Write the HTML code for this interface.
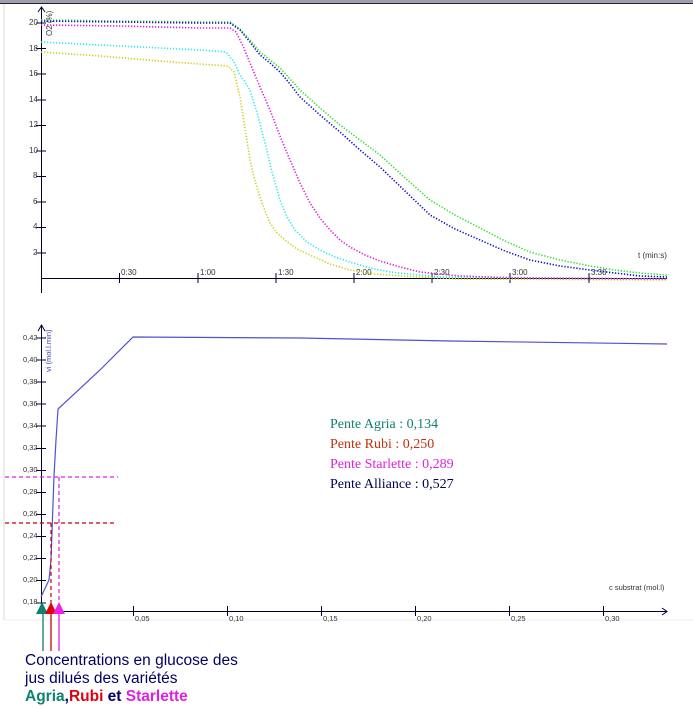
<!DOCTYPE html>
<html><head><meta charset="utf-8"><style>
html,body{margin:0;padding:0;background:#fff;width:693px;height:709px;overflow:hidden}
svg{display:block}
</style></head><body>
<svg width="693" height="709" viewBox="0 0 693 709" xmlns="http://www.w3.org/2000/svg" font-family="Liberation Sans, sans-serif">
<rect x="0" y="0" width="693" height="3" fill="#a0a0a8"/>
<line x1="0" y1="3.5" x2="693" y2="3.5" stroke="#202040" stroke-width="1"/>
<line x1="4" y1="4" x2="4" y2="620" stroke="#d8d8d8"/>
<line x1="4" y1="620" x2="693" y2="620" stroke="#eeeeee"/>

<!-- TOP CHART -->
<g stroke="#000030" stroke-width="1" fill="none">
<line x1="41.5" y1="8" x2="41.5" y2="293"/>
<path d="M38,12 L41.5,7 L45,12"/>
<line x1="41" y1="278.5" x2="667" y2="278.5"/>
</g>
<g stroke="#000030" stroke-width="1">
<line x1="119.5" y1="273" x2="119.5" y2="283"/><line x1="198" y1="273" x2="198" y2="283"/>
<line x1="276" y1="273" x2="276" y2="283"/><line x1="354" y1="273" x2="354" y2="283"/>
<line x1="432" y1="273" x2="432" y2="283"/><line x1="510" y1="273" x2="510" y2="283"/>
<line x1="589" y1="273" x2="589" y2="283"/>
<line x1="36" y1="23" x2="46" y2="23"/><line x1="36" y1="48.5" x2="46" y2="48.5"/>
<line x1="36" y1="74" x2="46" y2="74"/><line x1="36" y1="100" x2="46" y2="100"/>
<line x1="36" y1="125.5" x2="46" y2="125.5"/><line x1="36" y1="151" x2="46" y2="151"/>
<line x1="36" y1="176.5" x2="46" y2="176.5"/><line x1="36" y1="202" x2="46" y2="202"/>
<line x1="36" y1="227.5" x2="46" y2="227.5"/><line x1="36" y1="253" x2="46" y2="253"/>
</g>
<g font-size="8" fill="#333">
<text x="29" y="25">20</text><text x="29" y="51">18</text><text x="29" y="76">16</text>
<text x="29" y="102">14</text><text x="29" y="127">12</text><text x="29" y="153">10</text>
<text x="33" y="178">8</text><text x="33" y="204">6</text><text x="33" y="229">4</text><text x="33" y="255">2</text>
<text x="121" y="275">0:30</text><text x="200" y="275">1:00</text><text x="278" y="275">1:30</text>
<text x="356" y="275">2:00</text><text x="434" y="275">2:30</text><text x="512" y="275">3:00</text><text x="591" y="275">3:30</text>
<text x="638" y="258">t (min:s)</text>
<text transform="translate(52,36) rotate(-90)">O2 (%)</text>
</g>
<g fill="none" stroke-width="1.6" stroke-dasharray="1.3 1.7" stroke-linejoin="round">
<polyline stroke="#d0d020" points="41,52 100,56 160,61 200,64 228,66 234,72 240,97 245,128 250,160 255,181 260,197 265,211 270,223 277,233 285,240 297,249 310,255 330,264 350,270 375,274 400,276 460,279 667,280"/>
<polyline stroke="#30e8f0" points="41,42 100,45 160,48 200,50 226,52 234,62 240,75 245,82 250,90 258,116 265,143 272,172 280,200 287,217 295,230 307,242 320,250 335,257 350,262 370,268 390,272 440,277 667,279"/>
<polyline stroke="#e020d8" points="41,25 120,26 200,28 230,28 236,32 243,46 250,63 260,87 270,110 280,136 290,160 300,183 310,203 320,218 330,230 340,240 350,247 365,255 380,261 400,267 420,272 460,276 520,278 667,279"/>
<polyline stroke="#30e030" points="41,20 120,21 200,22 230,22 240,29 250,40 260,52 270,60 280,68 290,79 300,90 320,108 340,125 360,140 380,155 405,178 430,200 455,215 480,228 505,241 530,252 560,260 590,266 615,270 640,273 667,275"/>
<polyline stroke="#1010c0" points="41,21 120,22 200,23 230,23 240,30 250,42 260,55 270,63 280,72 290,84 300,97 320,115 340,132 360,150 380,167 405,191 430,215 455,229 480,240 505,251 530,260 560,266 590,270 615,273 640,276 667,277"/>
</g>

<!-- BOTTOM CHART -->
<g stroke="#000030" stroke-width="1" fill="none">
<line x1="41.5" y1="326" x2="41.5" y2="611"/>
<path d="M38,331 L41.5,325 L45,331"/>
<line x1="41" y1="611.5" x2="667" y2="611.5"/>
<path d="M662,608 L667,611.5 L662,615"/>
</g>
<g stroke="#000030" stroke-width="1">
<line x1="133.5" y1="606" x2="133.5" y2="616"/><line x1="227.5" y1="606" x2="227.5" y2="616"/>
<line x1="321.5" y1="606" x2="321.5" y2="616"/><line x1="415.5" y1="606" x2="415.5" y2="616"/>
<line x1="509.5" y1="606" x2="509.5" y2="616"/><line x1="603.5" y1="606" x2="603.5" y2="616"/>
<line x1="36" y1="338" x2="46" y2="338"/><line x1="36" y1="360" x2="46" y2="360"/>
<line x1="36" y1="382" x2="46" y2="382"/><line x1="36" y1="404" x2="46" y2="404"/>
<line x1="36" y1="426" x2="46" y2="426"/><line x1="36" y1="448.5" x2="46" y2="448.5"/>
<line x1="36" y1="470.5" x2="46" y2="470.5"/><line x1="36" y1="492.5" x2="46" y2="492.5"/>
<line x1="36" y1="514.5" x2="46" y2="514.5"/><line x1="36" y1="536.5" x2="46" y2="536.5"/>
<line x1="36" y1="558.5" x2="46" y2="558.5"/><line x1="36" y1="580.5" x2="46" y2="580.5"/>
<line x1="36" y1="603" x2="46" y2="603"/>
</g>
<g font-size="7.5" fill="#333">
<text x="23" y="340">0,42</text><text x="23" y="362">0,40</text><text x="23" y="384">0,38</text>
<text x="23" y="406">0,36</text><text x="23" y="428">0,34</text><text x="23" y="450">0,32</text>
<text x="23" y="472">0,30</text><text x="23" y="494">0,28</text><text x="23" y="516">0,26</text>
<text x="23" y="538">0,24</text><text x="23" y="560">0,22</text><text x="23" y="582">0,20</text>
<text x="23" y="604">0,18</text>
<text x="135" y="621">0,05</text><text x="229" y="621">0,10</text><text x="323" y="621">0,15</text>
<text x="417" y="621">0,20</text><text x="511" y="621">0,25</text><text x="605" y="621">0,30</text>
<text x="609" y="590">c substrat (mol.l)</text>
</g>
<text transform="translate(51,372) rotate(-90)" font-size="7.5" fill="#4040c0">vi (mol.l.min)</text>
<polyline fill="none" stroke="#5050d0" stroke-width="1.2" points="41,597 49,580 51,560 54,476 56,440 58,409 100,370 133,337 300,338 450,341 667,344"/>

<g stroke-width="1.2" stroke-dasharray="4 3" fill="none">
<line x1="5" y1="477" x2="118" y2="477" stroke="#e020e0"/>
<line x1="59" y1="477" x2="59" y2="605" stroke="#e020e0"/>
<line x1="5" y1="523" x2="115" y2="523" stroke="#c00010"/>
<line x1="51" y1="523" x2="51" y2="605" stroke="#c00010"/>
</g>
<g stroke-width="1.3">
<line x1="43" y1="610" x2="43" y2="651" stroke="#108070"/>
<line x1="51" y1="610" x2="51" y2="651" stroke="#d00010"/>
<line x1="59" y1="610" x2="59" y2="651" stroke="#e020e0"/>
</g>
<polygon points="36,614 42,602 48,614" fill="#108070"/>
<polygon points="45,614 51,602 57,614" fill="#e00010"/>
<polygon points="53,614 59,602 65,614" fill="#f020f0"/>

<g font-family="Liberation Serif, serif" font-size="14">
<text x="330" y="428" fill="#108070">Pente Agria : 0,134</text>
<text x="330" y="448" fill="#c03010">Pente Rubi : 0,250</text>
<text x="330" y="468" fill="#e020e0">Pente Starlette : 0,289</text>
<text x="330" y="488" fill="#000050">Pente Alliance : 0,527</text>
</g>

<g font-size="15.5" fill="#000060">
<text x="25" y="665">Concentrations en glucose des</text>
<text x="25" y="683">jus dilués des variétés</text>
<text x="25" y="701" font-weight="bold"><tspan fill="#108070">Agria</tspan><tspan fill="#000060">,</tspan><tspan fill="#e00010">Rubi</tspan><tspan fill="#000060"> et </tspan><tspan fill="#e020e0">Starlette</tspan></text>
</g>
</svg>
</body></html>
